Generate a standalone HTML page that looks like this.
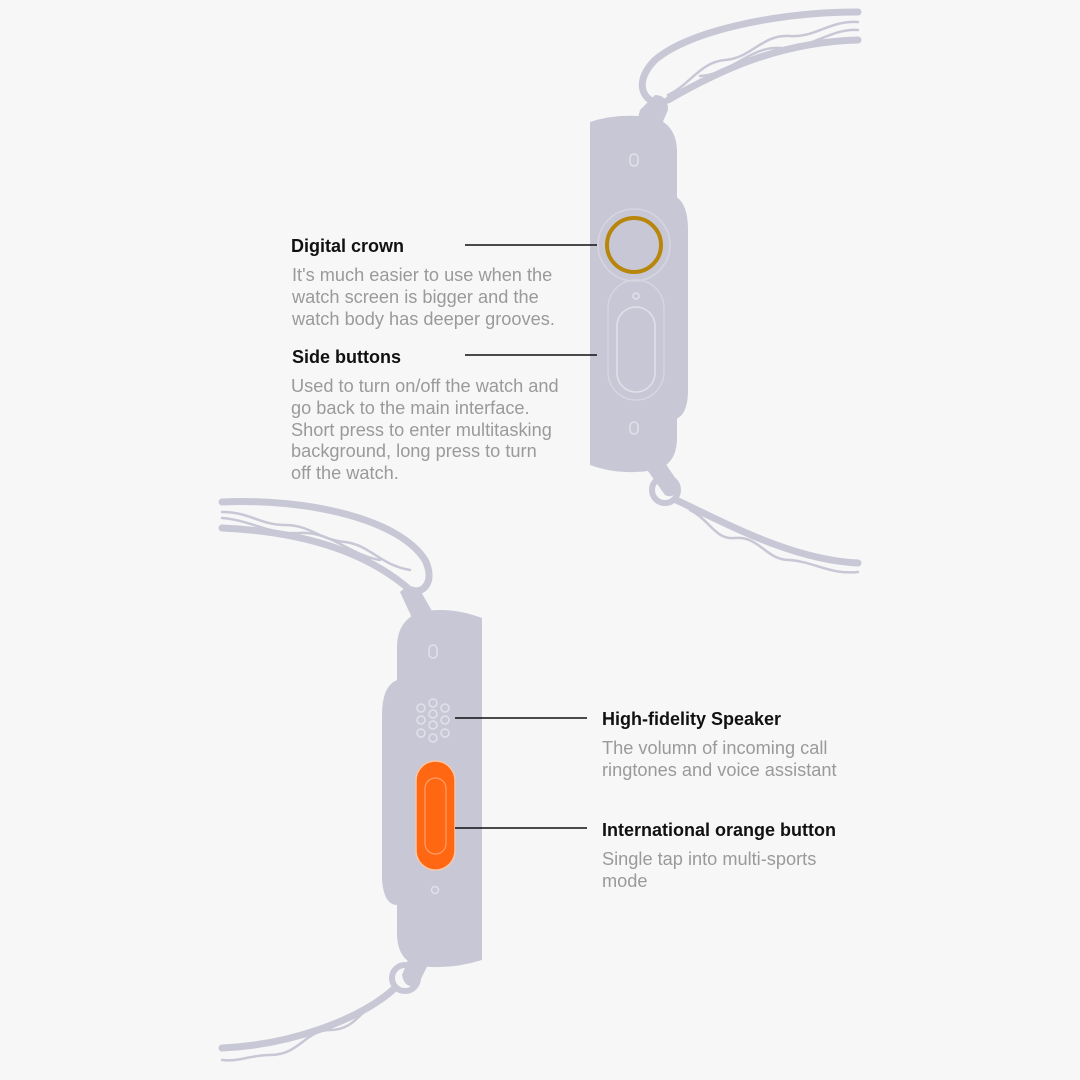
<!DOCTYPE html>
<html><head><meta charset="utf-8"><style>
html,body{margin:0;padding:0;background:#f7f7f7;}
svg{display:block}
text{font-family:"Liberation Sans",Arial,sans-serif;}
.h{font-size:18px;font-weight:bold;fill:#111}
.b{font-size:18.2px;fill:#9a9a9a}
</style></head><body>
<svg width="1080" height="1080" viewBox="0 0 1080 1080" xmlns="http://www.w3.org/2000/svg">
<rect width="1080" height="1080" fill="#f7f7f7"/>
<g fill="none" stroke="#c8c7d6" stroke-linecap="round">
<!-- top watch band -->
<path d="M858 12 C780 12 690 30 655 60 C635 80 640 100 660 104" stroke-width="7"/>
<path d="M858 40 C780 42 720 70 668 100" stroke-width="7"/>
<path d="M858 22 C830 20 815 38 790 36 C762 34 752 58 725 60 C700 62 690 85 668 95" stroke-width="2.5"/>
<path d="M858 30 C830 28 810 50 780 48 C750 46 730 75 700 76" stroke-width="2.5"/>
<!-- bottom of top watch band -->
<circle cx="665" cy="490" r="13" stroke-width="6"/>
<path d="M676 500 C720 520 790 560 858 563" stroke-width="7"/>
<path d="M690 510 C710 520 715 540 735 538 C760 536 765 560 790 560 C815 562 830 575 858 572" stroke-width="2.5"/>
<!-- bottom watch band -->
<path d="M222 502 C310 498 400 520 425 560 C435 580 425 595 410 590" stroke-width="7"/>
<path d="M222 528 C310 532 370 555 410 590" stroke-width="7"/>
<path d="M222 512 C250 512 260 525 285 525 C310 525 320 540 345 542 C370 545 380 565 410 570" stroke-width="2.5"/>
<path d="M222 518 C250 520 270 535 300 533 C330 531 350 555 380 560" stroke-width="2.5"/>
<circle cx="405" cy="978" r="13" stroke-width="6"/>
<path d="M395 988 C360 1020 290 1045 222 1048" stroke-width="7"/>
<path d="M380 1000 C360 1010 355 1030 330 1030 C305 1030 300 1055 270 1055 C250 1055 240 1062 222 1060" stroke-width="2.5"/>
</g>
<!-- top watch -->
<g fill="#c8c7d6">
<path d="M672 195 Q688 200 688 230 L688 390 Q688 418 672 420 Z"/>
<path d="M590 122 Q620 112 655 118 Q676 125 677 150 L677 440 Q676 465 655 470 Q620 476 590 465 Z"/>
<path d="M640 110 L655 95 Q668 95 668 110 L655 140 Q640 150 633 138 Z"/>
<path d="M633 450 Q640 438 655 448 L680 485 Q675 500 665 495 Z"/>
</g>
<g fill="none" stroke="#e2e1ea" stroke-width="1.5">
<rect x="630" y="154" width="8" height="12" rx="4"/>
<rect x="630" y="422" width="8" height="12" rx="4"/>
<circle cx="636" cy="296" r="3"/>
<rect x="617" y="307" width="38" height="85" rx="19"/>
<rect x="608" y="280" width="56" height="120" rx="28" stroke="#d6d5e0"/>
<circle cx="634" cy="245" r="36" stroke="#d6d5e0"/>
</g>
<circle cx="634" cy="245" r="27" fill="#c8c7d6" stroke="#b8860b" stroke-width="4"/>
<!-- bottom watch -->
<g fill="#c8c7d6">
<path d="M397 680 Q382 686 382 715 L382 880 Q384 905 397 905 Z"/>
<path d="M482 618 Q450 606 420 612 Q398 620 397 645 L397 935 Q398 962 420 966 Q450 970 482 960 Z"/>
<path d="M400 592 Q410 582 420 590 L440 625 Q435 640 420 635 Z"/>
<path d="M420 930 Q435 925 440 940 L418 985 Q405 990 402 975 Z"/>
</g>
<g fill="none" stroke="#e2e1ea" stroke-width="1.5">
<rect x="429" y="645" width="8" height="13" rx="4"/>
<circle cx="435" cy="890" r="3.5"/>
<circle cx="433" cy="703" r="4"/><circle cx="445" cy="708" r="4"/><circle cx="421" cy="708" r="4"/>
<circle cx="433" cy="714" r="4"/><circle cx="445" cy="720" r="4"/><circle cx="421" cy="720" r="4"/>
<circle cx="433" cy="725" r="4"/><circle cx="445" cy="733" r="4"/><circle cx="421" cy="733" r="4"/>
<circle cx="433" cy="738" r="4"/>
</g>
<rect x="416" y="761" width="39" height="109" rx="19.5" fill="#ff6712" stroke="#f6c7a8" stroke-width="1.5"/>
<rect x="425" y="778" width="21" height="76" rx="10.5" fill="none" stroke="#ffa06a" stroke-width="1.2"/>
<!-- connectors -->
<g stroke="#111" stroke-width="1.4">
<line x1="465" y1="245" x2="597" y2="245"/>
<line x1="465" y1="355" x2="597" y2="355"/>
<line x1="455" y1="718" x2="587" y2="718"/>
<line x1="455" y1="828" x2="587" y2="828"/>
</g>
<!-- text -->
<text x="291" y="252" class="h">Digital crown</text>
<text x="292" y="281" class="b">It's much easier to use when the</text>
<text x="292" y="303" class="b">watch screen is bigger and the</text>
<text x="292" y="325" class="b">watch body has deeper grooves.</text>
<text x="292" y="363" class="h">Side buttons</text>
<text x="291" y="392" class="b">Used to turn on/off the watch and</text>
<text x="291" y="414" class="b">go back to the main interface.</text>
<text x="291" y="436" class="b">Short press to enter multitasking</text>
<text x="291" y="457" class="b">background, long press to turn</text>
<text x="291" y="479" class="b">off the watch.</text>
<text x="602" y="725" class="h">High-fidelity Speaker</text>
<text x="602" y="754" class="b">The volumn of incoming call</text>
<text x="602" y="776" class="b">ringtones and voice assistant</text>
<text x="602" y="836" class="h">International orange button</text>
<text x="602" y="865" class="b">Single tap into multi-sports</text>
<text x="602" y="887" class="b">mode</text>
</svg>
</body></html>
